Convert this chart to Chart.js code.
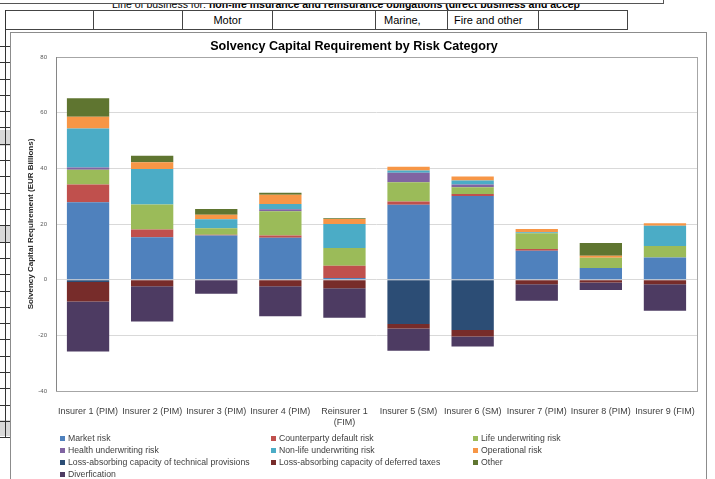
<!DOCTYPE html>
<html>
<head>
<meta charset="utf-8">
<script src="https://cdn.jsdelivr.net/npm/chart.js@4.4.0/dist/chart.umd.min.js"></script>
<style>
  body { margin: 0; width: 715px; height: 479px; overflow: hidden; background: #fff; position: relative; font-family: "Liberation Sans", Arial, sans-serif; }
  .abs { position: absolute; }
  .topline { left: 0; top: 0; width: 663px; height: 3px; border-bottom: 1px solid #555; border-right: 1px solid #555; z-index: 2; background: #fff; }
  .toptext { left: 112px; top: -2px; font-size: 10.5px; white-space: nowrap; color: #000; }
  .cell { top: 10px; height: 20px; border: 1px solid #444; border-left: none; box-sizing: border-box; font-size: 11px; line-height: 19px; color: #000; }
  .gridrow { left: 0; width: 10px; height: 0; border-top: 1px solid #333; }
  .gray { left: 0; width: 10px; background: #d9d9d9; }
  .chartbox { left: 10px; top: 32px; width: 697px; height: 470px; border: 1px solid #8c8c8c; box-sizing: border-box; background: #fff; }
  #wrap { position: absolute; left: 11px; top: 33px; width: 695px; height: 446px; }
  #legend { left: 60px; top: 433px; display: grid; grid-template-columns: 211px 202px 200px; grid-auto-rows: 12px; font-size: 8.7px; color: #404040; }
  #legend span.sw { display: inline-block; width: 5px; height: 5px; margin-right: 3px; vertical-align: 0px; }
</style>
</head>
<body>
<div class="abs toptext">Line of business for: <b>non-life insurance and reinsurance obligations (direct business and accep</b></div>
<div class="abs topline"></div>
<div class="abs" style="left:5px;top:10px;width:623px;height:0;border-top:1px solid #444"></div>
<div class="abs cell" style="left:5px;width:89px;border-left:1px solid #444"></div>
<div class="abs cell" style="left:94px;width:89px"></div>
<div class="abs cell" style="left:183px;width:90px;text-align:center">Motor</div>
<div class="abs cell" style="left:273px;width:103px"></div>
<div class="abs cell" style="left:376px;width:72px;padding-left:8px">Marine,</div>
<div class="abs cell" style="left:448px;width:91px;padding-left:6px">Fire and other</div>
<div class="abs cell" style="left:539px;width:89px"></div>
<div id="leftgrid"></div>
<div class="abs chartbox"></div>
<div id="wrap"><canvas id="scr"></canvas></div>
<div class="abs" id="legend"></div>
<script>
// spreadsheet rows peeking out on the left of the chart
const lg = document.getElementById("leftgrid");
[130, 226, 420].forEach(y => {
  const g = document.createElement("div");
  g.className = "abs gray"; g.style.top = y + "px"; g.style.height = "16px";
  lg.appendChild(g);
});
for (let y = 46; y <= 438; y += 16.3) {
  const d = document.createElement("div");
  d.className = "abs gridrow"; d.style.top = Math.round(y) + "px";
  lg.appendChild(d);
}
const vl = document.createElement("div");
vl.className = "abs"; vl.style.cssText = "left:5px;top:10px;width:0;height:428px;border-left:1px solid #333";
lg.appendChild(vl);

const insurers = ["Insurer 1 (PIM)", "Insurer 2 (PIM)", "Insurer 3 (PIM)", "Insurer 4 (PIM)", ["Reinsurer 1", "(FIM)"],
  "Insurer 5 (SM)", "Insurer 6 (SM)", "Insurer 7 (PIM)", "Insurer 8 (PIM)", "Insurer 9 (FIM)"];

const marketRisk      = [27.8, 15.2, 15.9, 15.1, 0.6, 26.9, 30.1, 10.4, 4.2, 8.0];
const counterparty    = [6.4, 2.8, 0.2, 0.8, 4.4, 1.2, 0.7, 0.6, 0, 0];
const lifeUw          = [5.3, 9.0, 2.4, 8.7, 6.4, 6.9, 2.4, 5.7, 3.7, 4.1];
const healthUw        = [0.8, 0, 0, 0.7, 0, 3.4, 1.0, 0, 0, 0];
const nonLifeUw       = [14.0, 12.8, 3.2, 1.9, 8.6, 0.8, 1.4, 0.3, 0, 7.3];
const operational     = [4.2, 2.4, 1.6, 3.3, 1.8, 1.4, 1.5, 1.2, 0.7, 0.9];
const lacTechProv     = [-0.8, 0, 0, 0, 0, -15.9, -18.1, 0, 0, 0];
const lacDeferredTax  = [-7.0, -2.4, 0, -2.4, -3.1, -1.6, -2.3, -1.6, -1.0, -1.6];
const other           = [6.7, 2.3, 2.1, 0.7, 0.3, 0, 0, 0, 4.6, 0];
const diversification = [-18.0, -12.6, -5.1, -10.7, -10.6, -8.0, -3.6, -6.0, -2.7, -9.6];

const yTicks = [-40, -20, 0, 20, 40, 60, 80];

const series = [
  ["Market risk", marketRisk, "#4F81BD"],
  ["Counterparty default risk", counterparty, "#C0504D"],
  ["Life underwriting risk", lifeUw, "#9BBB59"],
  ["Health underwriting risk", healthUw, "#8064A2"],
  ["Non-life underwriting risk", nonLifeUw, "#4BACC6"],
  ["Operational risk", operational, "#F79646"],
  ["Loss-absorbing capacity of technical provisions", lacTechProv, "#2C4D75"],
  ["Loss-absorbing capacity of deferred taxes", lacDeferredTax, "#772C2A"],
  ["Other", other, "#5F7530"],
  ["Diverfication", diversification, "#4D3B62"]
];

const plotBorder = {
  id: "plotBorder",
  afterDraw(chart) {
    const a = chart.chartArea, c = chart.ctx;
    c.save();
    c.strokeStyle = "#a6a6a6";
    c.lineWidth = 1;
    c.strokeRect(Math.round(a.left) + 0.5, Math.round(a.top) + 0.5, Math.round(a.right - a.left), Math.round(a.bottom - a.top));
    c.strokeStyle = "#868686";
    c.beginPath();
    c.moveTo(Math.round(a.left) + 0.5, a.top);
    c.lineTo(Math.round(a.left) + 0.5, a.bottom);
    c.stroke();
    c.restore();
  }
};

const chart = new Chart(document.getElementById("scr"), {
  type: "bar",
  data: {
    labels: insurers,
    datasets: series.map(s => ({
      label: s[0], data: s[1], backgroundColor: s[2], borderWidth: 0,
      categoryPercentage: 1, barPercentage: 0.66
    }))
  },
  options: {
    responsive: true,
    maintainAspectRatio: false,
    animation: false,
    layout: { padding: { left: 0, right: 9, top: 0, bottom: 50 } },
    plugins: {
      legend: { display: false },
      tooltip: { enabled: false },
      title: {
        display: true,
        text: "Solvency Capital Requirement by Risk Category",
        color: "#000",
        font: { family: "Liberation Sans", size: 12.6, weight: "bold" },
        padding: { top: 5.6, bottom: 3.3 }
      }
    },
    scales: {
      x: {
        stacked: true,
        grid: { display: false },
        border: { display: false },
        ticks: { color: "#404040", font: { family: "Liberation Sans", size: 9 }, maxRotation: 0, autoSkip: false, padding: 7 },
        afterFit: s => { s.height = 38; }
      },
      y: {
        stacked: true,
        min: -40, max: 80,
        afterBuildTicks: s => { s.ticks = yTicks.map(v => ({ value: v })); },
        grid: { color: "#d9d9d9", drawTicks: false },
        border: { display: false },
        ticks: { color: "#595959", font: { family: "Liberation Sans", size: 6 }, padding: 9 },
        title: {
          display: true,
          text: "Solvency Capital Requirement (EUR Billions)",
          color: "#262626",
          font: { family: "Liberation Sans", size: 8, weight: "bold" },
          padding: { top: 15, bottom: 0 }
        },
        afterFit: s => { s.width = 45; }
      }
    }
  },
  plugins: [plotBorder]
});

// legend in three columns, same order as the datasets
const leg = document.getElementById("legend");
series.forEach(s => {
  const d = document.createElement("div");
  d.innerHTML = '<span class="sw" style="background:' + s[2] + '"></span>' + s[0];
  leg.appendChild(d);
});
</script>
</body>
</html>
